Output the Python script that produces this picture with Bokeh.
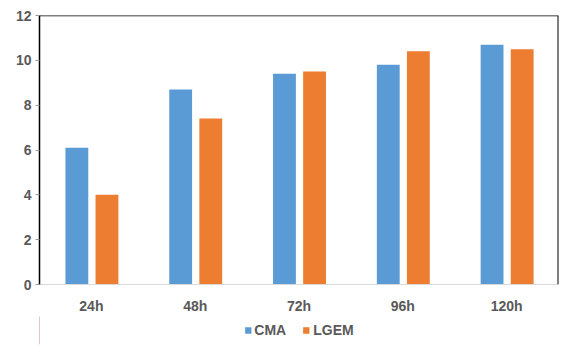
from bokeh.plotting import figure
from bokeh.layouts import column
from bokeh.models import ColumnDataSource, Legend, LegendItem, Span, Range1d
from bokeh.transform import dodge
from bokeh.embed import file_html
from bokeh.resources import INLINE

categories = ["24h", "48h", "72h", "96h", "120h"]
cma = [6.1, 8.7, 9.4, 9.8, 10.7]
lgem = [4.0, 7.4, 9.5, 10.4, 10.5]
y_ticks = [0, 2, 4, 6, 8, 10, 12]
series_names = ["CMA", "LGEM"]
colors = ["#5B9BD5", "#ED7D31"]

src = ColumnDataSource(dict(cat=categories, cma=cma, lgem=lgem))

p = figure(x_range=categories, y_range=Range1d(0, 12), width=575, height=316,
           output_backend="svg", toolbar_location=None,
           min_border_left=39, min_border_right=17, min_border_top=15, min_border_bottom=26)
p.x_range.range_padding = 0
p.grid.visible = False
p.outline_line_color = None

r1 = p.vbar(x=dodge("cat", -0.14, range=p.x_range), top="cma", width=0.22, source=src,
            fill_color=colors[0], line_color=None)
r2 = p.vbar(x=dodge("cat", 0.15, range=p.x_range), top="lgem", width=0.22, source=src,
            fill_color=colors[1], line_color=None)

p.add_layout(Span(location=12, dimension="width", line_color="black", line_width=1.5))
p.add_layout(Span(location=5, dimension="height", line_color="black", line_width=2))

p.yaxis.ticker = y_ticks
p.yaxis.axis_line_color = "black"
p.yaxis.axis_line_width = 1.5
p.yaxis.major_tick_line_color = "#999999"
p.yaxis.major_tick_out = 4
p.yaxis.major_tick_in = 0
p.yaxis.minor_tick_line_color = None
p.yaxis.major_label_standoff = 4

p.xaxis.axis_line_color = "#D9D9D9"
p.xaxis.major_tick_line_color = None
p.xaxis.major_label_standoff = 7

for ax in (p.xaxis, p.yaxis):
    ax.major_label_text_font = "Liberation Sans"
    ax.major_label_text_font_style = "bold"
    ax.major_label_text_font_size = "14px"
    ax.major_label_text_color = "#595959"

# legend panel
lg = figure(width=575, height=40, output_backend="svg", toolbar_location=None,
            x_range=Range1d(0, 1), y_range=Range1d(0, 1),
            x_axis_location=None, y_axis_location=None,
            min_border_left=0, min_border_right=0, min_border_top=0, min_border_bottom=12)
lg.grid.visible = False
lg.outline_line_color = None
lg.background_fill_color = None
lg.border_fill_color = None
items = []
for name, c in zip(series_names, colors):
    rr = lg.vbar(x=[-10], top=[1], width=0.5, fill_color=c, line_color=None)
    items.append(LegendItem(label=name, renderers=[rr]))
legend = Legend(items=items, orientation="horizontal", location="center",
                glyph_width=8, glyph_height=8, spacing=16,
                label_text_font="Liberation Sans", label_text_font_style="bold",
                label_text_font_size="14px", label_text_color="#595959",
                border_line_color=None, background_fill_alpha=0,
                padding=2, margin=0, label_standoff=3)
lg.add_layout(legend)

open("out.html", "w").write(file_html(column(p, lg, spacing=0), INLINE))
